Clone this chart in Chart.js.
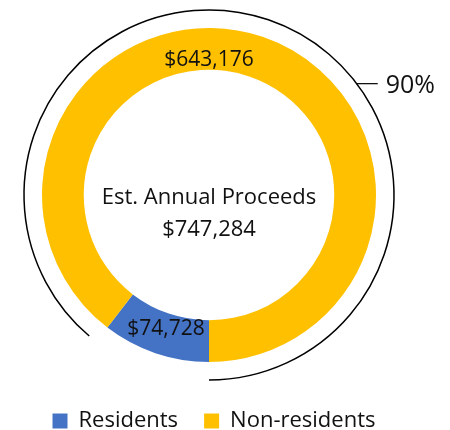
<!DOCTYPE html>
<html>
<head>
<meta charset="utf-8">
<script src="https://cdn.jsdelivr.net/npm/chart.js@4.4.0/dist/chart.umd.min.js"></script>
<style>
  html, body { margin: 0; padding: 0; background: #fff; }
  #wrap { width: 450px; height: 430px; }
</style>
</head>
<body>
<div id="wrap"><canvas id="proceedsChart"></canvas></div>
<script>
// data
const categories = ['Residents', 'Non-residents'];
const proceeds = [74728, 643176];
const sliceLabels = ['$74,728', '$643,176'];
const centerLines = ['Est. Annual Proceeds', '$747,284'];
const bracketLabel = '90%';

const FONT = "'Open Sans', 'Noto Sans', sans-serif";

// keep the ring in a fixed square so the legend can use the full width
const ringBox = {
    id: 'ringBox',
    afterLayout(chart) {
        const area = chart.chartArea;
        area.left = 42;
        area.right = 376;
        area.top = 28;
        area.bottom = 362;
        area.width = area.right - area.left;
        area.height = area.bottom - area.top;
    }
};

// slice values, centre text and the 90% bracket
const ringExtras = {
    id: 'ringExtras',
    afterDatasetsDraw(chart) {
        const ctx = chart.ctx;
        const arcs = chart.getDatasetMeta(0).data;
        const first = arcs[0].getProps(['x', 'y', 'innerRadius', 'outerRadius'], true);
        const cx = first.x, cy = first.y;
        const midR = (first.innerRadius + first.outerRadius) / 2;

        ctx.save();
        ctx.fillStyle = '#111';
        ctx.textAlign = 'center';
        ctx.textBaseline = 'middle';
        ctx.font = '21px ' + FONT;

        // residents label sits in the middle of its slice
        const p = arcs[0].tooltipPosition();
        ctx.fillText(sliceLabels[0], p.x + 4, p.y - 4);
        // non-residents label at the top of the ring
        ctx.fillText(sliceLabels[1], cx, cy - midR + 11);

        ctx.font = '22px ' + FONT;
        ctx.textBaseline = 'alphabetic';
        ctx.fillText(centerLines[0], cx, cy + 9);
        ctx.fillText(centerLines[1], cx, cy + 41);

        // bracket around the non-residents share
        const gold = arcs[1].getProps(['startAngle', 'endAngle', 'outerRadius'], true);
        const r = gold.outerRadius + 18;
        ctx.strokeStyle = '#000';
        ctx.lineWidth = 1.5;
        ctx.beginPath();
        ctx.arc(cx, cy, r, gold.startAngle + 0.05, gold.endAngle);
        ctx.stroke();

        const a = -Math.PI / 2 + 53 * Math.PI / 180;
        const lx = cx + r * Math.cos(a), ly = cy + r * Math.sin(a);
        ctx.lineWidth = 1.2;
        ctx.beginPath();
        ctx.moveTo(lx, ly);
        ctx.lineTo(lx + 21, ly);
        ctx.stroke();

        ctx.font = '25px ' + FONT;
        ctx.textAlign = 'left';
        ctx.textBaseline = 'middle';
        ctx.fillText(bracketLabel, lx + 29, ly + 2);
        ctx.restore();
    }
};

const ctxProceeds = document.getElementById('proceedsChart').getContext('2d');
const proceedsChart = new Chart(ctxProceeds, {
    type: 'doughnut',
    data: {
        labels: categories,
        datasets: [{
            data: proceeds,
            backgroundColor: ['#4472C4', '#FFC000'],
            borderWidth: 0
        }]
    },
    options: {
        responsive: true,
        maintainAspectRatio: false,
        animation: false,
        rotation: 180,
        cutout: '75%',
        layout: {
            padding: { left: 0, right: 22, top: 28, bottom: -12 }
        },
        plugins: {
            tooltip: { enabled: false },
            legend: {
                position: 'bottom',
                labels: {
                    boxWidth: 15,
                    boxHeight: 15,
                    padding: 26,
                    color: '#111',
                    font: { family: FONT, size: 22 }
                }
            }
        }
    },
    plugins: [ringBox, ringExtras]
});
</script>
</body>
</html>
